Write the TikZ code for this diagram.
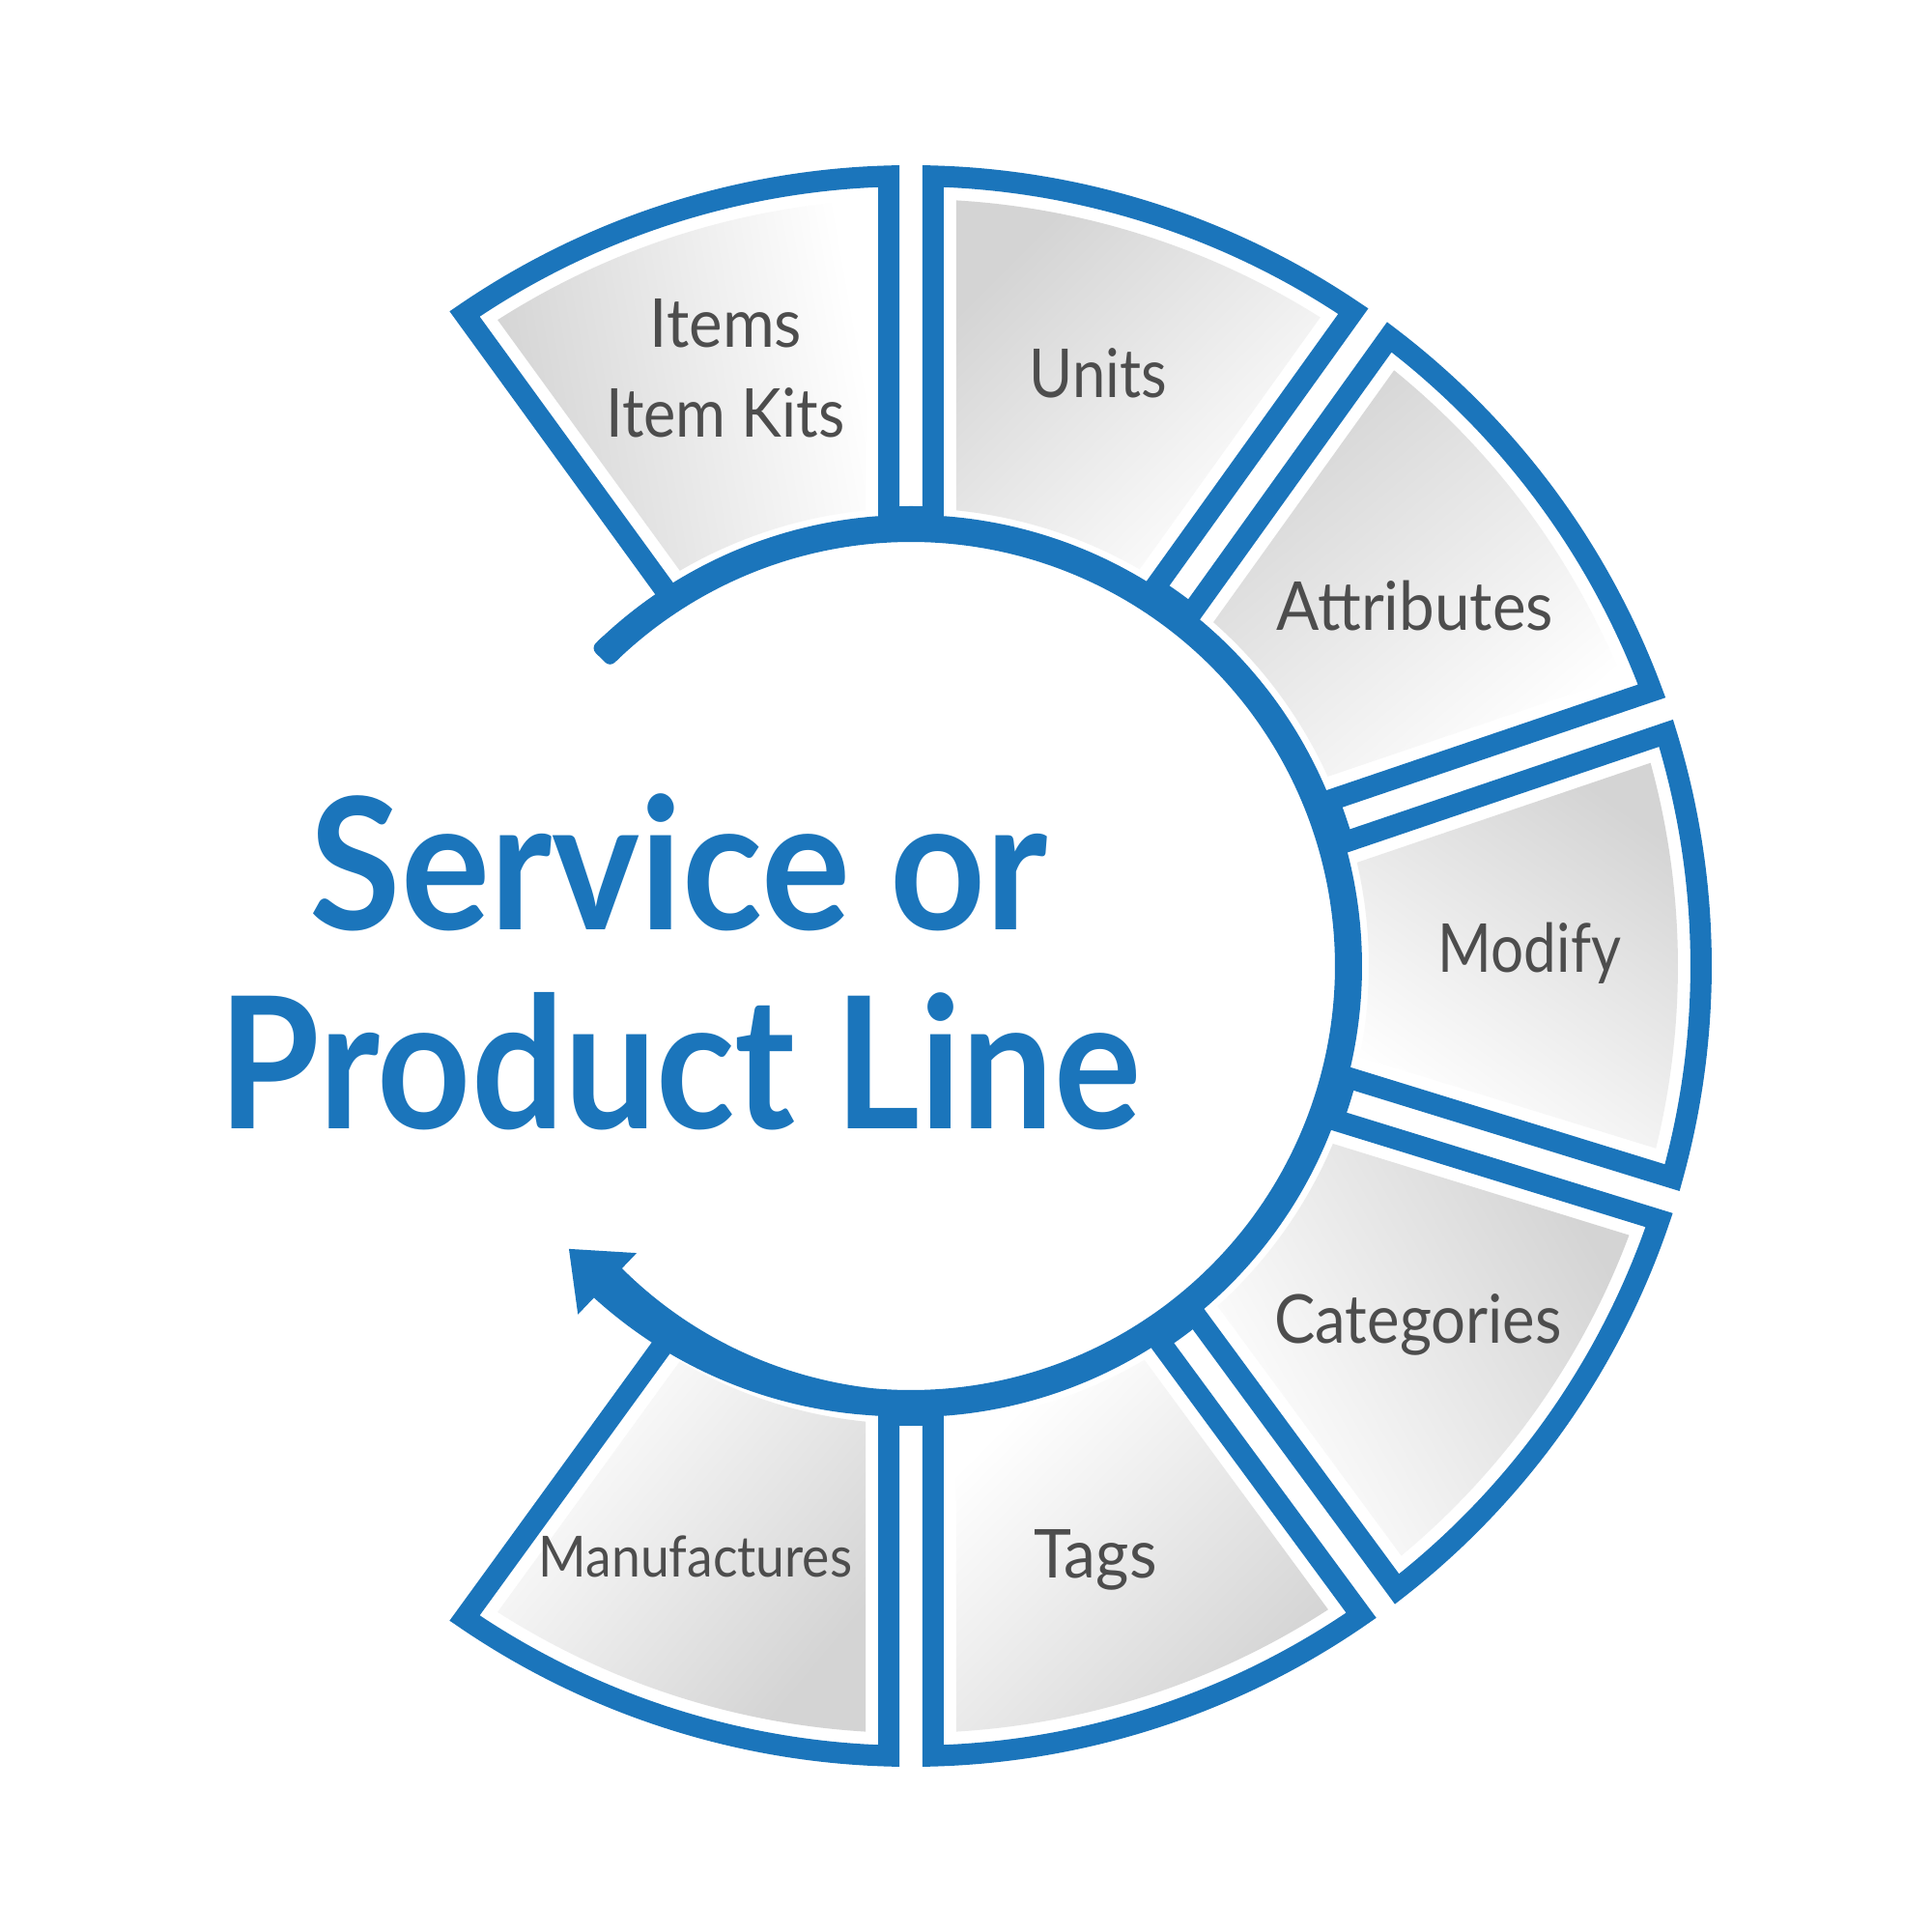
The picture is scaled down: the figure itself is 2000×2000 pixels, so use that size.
\documentclass[tikz,border=0pt]{standalone}
\usepackage{fontspec}
\setmainfont{Lato}
\usepackage{graphicx}
\definecolor{ringblue}{HTML}{1B75BB}
\definecolor{labelgray}{HTML}{4D4D4D}
\tikzset{
  segline/.style={draw=ringblue, line width=0.22cm, line join=miter},
  segfill/.style={top color=black!17, middle color=black!3, bottom color=white},
  lbl/.style={inner sep=0pt, anchor=base, text=labelgray, font=\fontsize{19.86pt}{24pt}\selectfont},
  lblsmall/.style={lbl, font=\fontsize{16.7pt}{20pt}\selectfont},
  ttl/.style={inner sep=0pt, anchor=base, text=ringblue, font=\fontsize{54pt}{60pt}\selectfont\bfseries},
}
% #1 = upper boundary angle, #2 = lower boundary angle, #3 = shading angle
\newcommand{\mkseg}[3]{%
  \pgfmathsetmacro{\fA}{#1-asin(47/794)}%
  \pgfmathsetmacro{\fB}{#2+asin(47/794)}%
  \pgfmathsetmacro{\fa}{#1-asin(47/474)}%
  \pgfmathsetmacro{\fb}{#2+asin(47/474)}%
  \pgfmathsetmacro{\sA}{#1-asin(23/818)}%
  \pgfmathsetmacro{\sB}{#2+asin(23/818)}%
  \pgfmathsetmacro{\sa}{#1-asin(23/455)}%
  \pgfmathsetmacro{\sb}{#2+asin(23/455)}%
  \path[segfill, shading angle=#3] (\fa:474) -- (\fA:794)
    arc[start angle=\fA, end angle=\fB, radius=794] -- (\fb:474)
    arc[start angle=\fb, end angle=\fa, radius=474] -- cycle;
  \draw[segline] (\sa:455) -- (\sA:818)
    arc[start angle=\sA, end angle=\sB, radius=818] -- (\sb:455);
}
\begin{document}
\begin{tikzpicture}[x=0.01cm, y=0.01cm]
\fill[white] (-943,-1000) rectangle (1057,1000);
\useasboundingbox (-943,-1000) rectangle (1057,1000);

% segments
\mkseg{126}{90}{100}
\mkseg{90}{54.35}{45}
\mkseg{54.35}{18.75}{40}
\mkseg{18.75}{-17.15}{-35}
\mkseg{-17.15}{-53.65}{-60}
\mkseg{-53.65}{-90}{-135}
\mkseg{-90}{-126}{-130}

% central ring with arrow
\fill[ringblue] plot[domain=134:-134.5, samples=260] (\x:{467+8*max(0,(-95-(\x))/38.7)})
  -- plot[domain=-134.5:134, samples=260] (\x:{439-6*max(0,(-95-(\x))/38.7)}) -- cycle;
\fill[ringblue, rounded corners=0.07cm] (132.5:467) arc[start angle=132.5, end angle=135.2, radius=467]
  -- (135.2:439) arc[start angle=135.2, end angle=132.5, radius=439] -- cycle;
\foreach \g in {90,54.35,18.75,-17.15,-53.65,-90}
  \draw[ringblue, line width=0.1cm] ({\g+3}:471) arc[start angle={\g+3}, end angle={\g-3}, radius=471];
\fill[ringblue] (-133.7:411) -- (-140.4:459.5) -- (-133.7:499) -- cycle;

% title
\node[ttl] (title1) at (-240,37) {\resizebox{7.64cm}{\height}{Service or}};
\node[ttl] (title2) at (-239,-169) {\resizebox{9.54cm}{\height}{Product Line}};

% labels
\node[lbl] (items) at (-191.5,640) {\resizebox{1.57cm}{\height}{Items}};
\node[lbl] (itemkits) at (-192,547) {\resizebox{2.47cm}{\height}{Item Kits}};
\node[lbl] (units) at (194,588) {\resizebox{1.42cm}{\height}{Units}};
\node[lbl] (attributes) at (522,347) {\resizebox{2.86cm}{\height}{Attributes}};
\node[lbl] (modify) at (640.5,-7) {\resizebox{1.89cm}{\height}{Modify}};
\node[lbl] (categories) at (525,-390) {\resizebox{2.97cm}{\height}{Categories}};
\node[lbl] (tags) at (191,-633) {\resizebox{1.27cm}{\height}{Tags}};
\node[lblsmall] (manufactures) at (-223,-632) {\resizebox{3.24cm}{\height}{Manufactures}};
\end{tikzpicture}
\end{document}
